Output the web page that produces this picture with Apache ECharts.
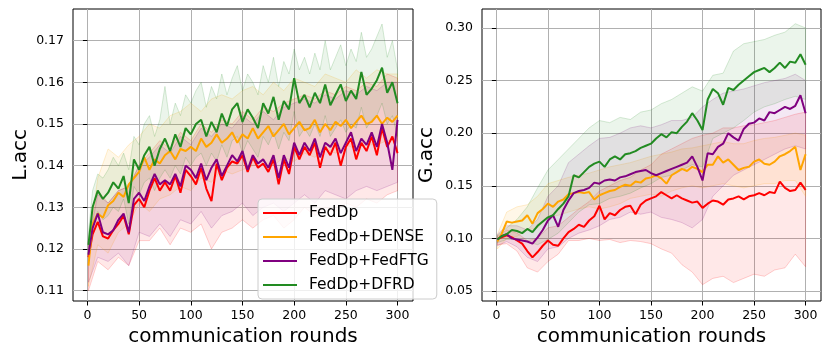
<!DOCTYPE html>
<html>
<head>
<meta charset="utf-8">
<script src="https://cdn.jsdelivr.net/npm/echarts@6/dist/echarts.min.js"></script>
<style>
  html, body { margin: 0; padding: 0; background: #fff; }
  #chart { width: 831px; height: 358px; }
</style>
</head>
<body>
<div id="chart"></div>
<script>
// x positions of the sampled rounds
const rounds = [1, 5, 10, 15, 20, 25, 30, 35, 40, 45, 50, 55, 60, 65, 70, 75, 80, 85, 90, 95, 100,
  105, 110, 115, 120, 125, 130, 135, 140, 145, 150, 155, 160, 165, 170, 175, 180, 185, 190, 195, 200,
  205, 210, 215, 220, 225, 230, 235, 240, 245, 250, 255, 260, 265, 270, 275, 280, 285, 290, 295, 300]
const bandRounds = [1, 10, 20, 30, 40, 50, 60, 70, 80, 90, 100, 110, 120, 130, 140, 150,
  160, 170, 180, 190, 200, 210, 220, 230, 240, 250, 260, 270, 280, 290, 300]

const methods = ['FedDp', 'FedDp+DENSE', 'FedDp+FedFTG', 'FedDp+DFRD']
const colors = ['#ff0000', '#ffa500', '#800080', '#228b22']
const xTicks = [0, 50, 100, 150, 200, 250, 300]
const lTicks = [0.11, 0.12, 0.13, 0.14, 0.15, 0.16, 0.17]
const gTicks = [0.05, 0.10, 0.15, 0.20, 0.25, 0.30]

// ---- L.acc (left) ----
const lFedDp = [0.118, 0.1235, 0.1265, 0.123, 0.1225, 0.1245, 0.126, 0.128, 0.1235, 0.1305, 0.132,
  0.130, 0.134, 0.137, 0.134, 0.136, 0.134, 0.1375, 0.1335, 0.139, 0.1375, 0.1355, 0.1395, 0.1345,
  0.1315, 0.1405, 0.1365, 0.1395, 0.141, 0.1405, 0.1425, 0.1385, 0.142, 0.1395, 0.1405, 0.1385, 0.1415,
  0.1355, 0.1415, 0.138, 0.1445, 0.1415, 0.1445, 0.1425, 0.1455, 0.1395, 0.1445, 0.1425, 0.1455, 0.140,
  0.1445, 0.1465, 0.1415, 0.1455, 0.1435, 0.147, 0.1425, 0.149, 0.1445, 0.147, 0.143]
const lDense = [0.116, 0.126, 0.1285, 0.1275, 0.1305, 0.1315, 0.1335, 0.1325, 0.1355, 0.137, 0.1385,
  0.142, 0.139, 0.1415, 0.1405, 0.1425, 0.1435, 0.1415, 0.144, 0.1435, 0.1445, 0.1435, 0.1465, 0.1445,
  0.1455, 0.1475, 0.1455, 0.1465, 0.148, 0.1455, 0.1475, 0.1465, 0.149, 0.1465, 0.148, 0.1495, 0.147,
  0.1485, 0.150, 0.1475, 0.149, 0.1505, 0.1485, 0.149, 0.151, 0.148, 0.150, 0.1485, 0.1505, 0.1495,
  0.151, 0.149, 0.1505, 0.152, 0.150, 0.1505, 0.152, 0.150, 0.1515, 0.1505, 0.152]
const lFedFTG = [0.1186, 0.125, 0.1285, 0.124, 0.1235, 0.1245, 0.127, 0.1285, 0.124, 0.132, 0.1335,
  0.1315, 0.135, 0.138, 0.1355, 0.1365, 0.1355, 0.138, 0.135, 0.140, 0.139, 0.137, 0.1405, 0.1365,
  0.1395, 0.1415, 0.1375, 0.140, 0.1425, 0.141, 0.1435, 0.139, 0.1425, 0.1405, 0.1415, 0.1395, 0.1425,
  0.137, 0.1425, 0.1395, 0.1455, 0.1425, 0.1455, 0.1435, 0.1465, 0.142, 0.1455, 0.1445, 0.1465, 0.143,
  0.1455, 0.148, 0.1435, 0.1465, 0.145, 0.148, 0.1445, 0.150, 0.1455, 0.139, 0.151]
const lDFRD = [0.121, 0.130, 0.134, 0.132, 0.1335, 0.136, 0.1345, 0.1375, 0.131, 0.1415, 0.139,
  0.1425, 0.1445, 0.140, 0.144, 0.1465, 0.1435, 0.1475, 0.1445, 0.149, 0.1475, 0.150, 0.151, 0.147,
  0.1505, 0.148, 0.1525, 0.1495, 0.1535, 0.155, 0.1505, 0.1535, 0.1515, 0.149, 0.155, 0.1525, 0.1565,
  0.151, 0.1555, 0.1535, 0.161, 0.155, 0.157, 0.154, 0.1575, 0.155, 0.1595, 0.1545, 0.157, 0.1595,
  0.1555, 0.158, 0.156, 0.1625, 0.157, 0.1585, 0.1605, 0.1635, 0.1575, 0.160, 0.155]

const lFedDpLo = [0.110, 0.117, 0.115, 0.118, 0.116, 0.122, 0.122, 0.125, 0.121, 0.125, 0.124, 0.126,
  0.120, 0.124, 0.125, 0.127, 0.125, 0.127, 0.128, 0.125, 0.127, 0.130, 0.128, 0.130, 0.129, 0.131,
  0.130, 0.132, 0.131, 0.133, 0.134]
const lFedDpHi = [0.122, 0.134, 0.131, 0.134, 0.135, 0.140, 0.143, 0.146, 0.144, 0.148, 0.146, 0.150,
  0.148, 0.151, 0.150, 0.153, 0.151, 0.154, 0.153, 0.155, 0.156, 0.157, 0.156, 0.158, 0.157, 0.159,
  0.158, 0.160, 0.159, 0.162, 0.161]
const lDenseLo = [0.111, 0.121, 0.119, 0.124, 0.126, 0.131, 0.129, 0.132, 0.133, 0.135, 0.134, 0.137,
  0.136, 0.139, 0.138, 0.139, 0.140, 0.141, 0.140, 0.142, 0.141, 0.143, 0.142, 0.144, 0.143, 0.145,
  0.144, 0.145, 0.145, 0.146, 0.146]
const lDenseHi = [0.121, 0.137, 0.144, 0.142, 0.145, 0.147, 0.150, 0.149, 0.152, 0.153, 0.155, 0.153,
  0.156, 0.157, 0.156, 0.158, 0.159, 0.157, 0.160, 0.158, 0.161, 0.160, 0.159, 0.162, 0.161, 0.160,
  0.163, 0.161, 0.163, 0.162, 0.162]
const lFedFTGLo = [0.112, 0.118, 0.117, 0.119, 0.116, 0.124, 0.123, 0.126, 0.123, 0.127, 0.126, 0.129,
  0.125, 0.128, 0.129, 0.131, 0.128, 0.130, 0.131, 0.129, 0.131, 0.133, 0.131, 0.134, 0.133, 0.132,
  0.134, 0.135, 0.134, 0.135, 0.136]
const lFedFTGHi = [0.121, 0.133, 0.131, 0.134, 0.135, 0.140, 0.142, 0.145, 0.143, 0.147, 0.145, 0.149,
  0.147, 0.150, 0.149, 0.152, 0.150, 0.153, 0.151, 0.154, 0.155, 0.156, 0.155, 0.157, 0.156, 0.158,
  0.157, 0.159, 0.158, 0.160, 0.160]
// green band is sampled on every 5 rounds (same as the lines)
const lDFRDLo = [0.118, 0.125, 0.129, 0.127, 0.128, 0.130, 0.129, 0.132, 0.126, 0.135, 0.133, 0.136,
  0.137, 0.134, 0.137, 0.139, 0.137, 0.140, 0.138, 0.142, 0.140, 0.142, 0.143, 0.140, 0.143, 0.141,
  0.145, 0.142, 0.146, 0.147, 0.143, 0.146, 0.144, 0.142, 0.147, 0.145, 0.148, 0.144, 0.148, 0.146,
  0.153, 0.147, 0.149, 0.147, 0.150, 0.147, 0.152, 0.147, 0.149, 0.151, 0.148, 0.150, 0.149, 0.154,
  0.149, 0.151, 0.152, 0.155, 0.150, 0.152, 0.147]
const lDFRDHi = [0.124, 0.134, 0.138, 0.137, 0.139, 0.142, 0.140, 0.143, 0.139, 0.147, 0.145, 0.150,
  0.152, 0.147, 0.151, 0.159, 0.150, 0.155, 0.152, 0.157, 0.155, 0.158, 0.160, 0.154, 0.159, 0.156,
  0.162, 0.157, 0.161, 0.164, 0.158, 0.162, 0.160, 0.157, 0.164, 0.160, 0.166, 0.159, 0.165, 0.162,
  0.168, 0.163, 0.166, 0.162, 0.167, 0.163, 0.170, 0.163, 0.166, 0.169, 0.164, 0.168, 0.165, 0.172,
  0.166, 0.168, 0.171, 0.174, 0.166, 0.170, 0.163]

// ---- G.acc (right) ----
const gFedDp = [0.099, 0.101, 0.103, 0.101, 0.098, 0.095, 0.088, 0.082, 0.087, 0.093, 0.098, 0.094,
  0.093, 0.100, 0.106, 0.109, 0.113, 0.111, 0.117, 0.121, 0.131, 0.118, 0.124, 0.122, 0.127, 0.130,
  0.131, 0.123, 0.132, 0.136, 0.138, 0.140, 0.144, 0.141, 0.138, 0.141, 0.138, 0.136, 0.134, 0.135,
  0.129, 0.133, 0.136, 0.135, 0.132, 0.137, 0.138, 0.140, 0.137, 0.140, 0.141, 0.143, 0.141, 0.144,
  0.143, 0.154, 0.148, 0.145, 0.146, 0.153, 0.146]
const gDense = [0.097, 0.104, 0.116, 0.115, 0.116, 0.117, 0.122, 0.114, 0.124, 0.128, 0.133, 0.130,
  0.135, 0.137, 0.142, 0.143, 0.144, 0.143, 0.144, 0.137, 0.141, 0.143, 0.145, 0.146, 0.149, 0.151,
  0.150, 0.154, 0.153, 0.157, 0.158, 0.160, 0.157, 0.152, 0.160, 0.163, 0.166, 0.164, 0.168, 0.166,
  0.163, 0.170, 0.170, 0.178, 0.172, 0.175, 0.170, 0.165, 0.167, 0.168, 0.173, 0.175, 0.171, 0.170,
  0.173, 0.178, 0.180, 0.183, 0.187, 0.165, 0.180]
const gFedFTG = [0.099, 0.102, 0.104, 0.100, 0.099, 0.098, 0.097, 0.095, 0.101, 0.108, 0.117, 0.122,
  0.111, 0.127, 0.136, 0.143, 0.145, 0.146, 0.148, 0.153, 0.152, 0.155, 0.156, 0.155, 0.158, 0.159,
  0.161, 0.163, 0.164, 0.165, 0.162, 0.160, 0.162, 0.164, 0.166, 0.168, 0.170, 0.172, 0.178, 0.168,
  0.155, 0.181, 0.180, 0.187, 0.190, 0.200, 0.196, 0.193, 0.204, 0.209, 0.210, 0.214, 0.212, 0.220,
  0.219, 0.222, 0.225, 0.223, 0.226, 0.236, 0.219]
const gDFRD = [0.099, 0.102, 0.104, 0.108, 0.107, 0.105, 0.109, 0.106, 0.112, 0.116, 0.120, 0.122,
  0.128, 0.133, 0.140, 0.160, 0.158, 0.163, 0.168, 0.171, 0.173, 0.168, 0.175, 0.178, 0.175, 0.180,
  0.181, 0.183, 0.186, 0.188, 0.190, 0.195, 0.199, 0.196, 0.201, 0.200, 0.206, 0.211, 0.219, 0.212,
  0.203, 0.232, 0.242, 0.238, 0.227, 0.243, 0.241, 0.246, 0.250, 0.254, 0.258, 0.260, 0.262, 0.258,
  0.262, 0.267, 0.262, 0.268, 0.267, 0.275, 0.265]

const gFedDpLo = [0.094, 0.095, 0.088, 0.072, 0.068, 0.078, 0.085, 0.098, 0.098, 0.100, 0.098, 0.099,
  0.096, 0.098, 0.097, 0.095, 0.090, 0.086, 0.075, 0.068, 0.056, 0.062, 0.064, 0.058, 0.062, 0.066,
  0.064, 0.070, 0.072, 0.085, 0.073]
const gFedDpHi = [0.102, 0.108, 0.105, 0.098, 0.100, 0.110, 0.112, 0.120, 0.128, 0.135, 0.145, 0.150,
  0.155, 0.158, 0.165, 0.170, 0.180, 0.185, 0.190, 0.195, 0.198, 0.200, 0.205, 0.205, 0.207, 0.208,
  0.210, 0.212, 0.215, 0.218, 0.220]
const gDenseLo = [0.090, 0.100, 0.102, 0.108, 0.110, 0.120, 0.122, 0.125, 0.128, 0.130, 0.128, 0.130,
  0.133, 0.138, 0.140, 0.142, 0.140, 0.145, 0.148, 0.150, 0.148, 0.150, 0.152, 0.150, 0.148, 0.150,
  0.152, 0.152, 0.155, 0.155, 0.140]
const gDenseHi = [0.104, 0.125, 0.130, 0.132, 0.140, 0.152, 0.155, 0.158, 0.160, 0.162, 0.165, 0.168,
  0.170, 0.172, 0.175, 0.178, 0.180, 0.182, 0.185, 0.186, 0.188, 0.190, 0.192, 0.190, 0.190, 0.193,
  0.195, 0.196, 0.198, 0.200, 0.198]
const gFedFTGLo = [0.093, 0.097, 0.092, 0.082, 0.078, 0.090, 0.092, 0.100, 0.105, 0.108, 0.112, 0.118,
  0.120, 0.125, 0.123, 0.125, 0.120, 0.118, 0.115, 0.110, 0.118, 0.140, 0.150, 0.160, 0.165, 0.170,
  0.175, 0.180, 0.185, 0.188, 0.185]
const gFedFTGHi = [0.104, 0.112, 0.112, 0.108, 0.118, 0.140, 0.150, 0.172, 0.180, 0.188, 0.195, 0.196,
  0.200, 0.205, 0.207, 0.205, 0.208, 0.212, 0.212, 0.215, 0.225, 0.232, 0.238, 0.240, 0.242, 0.245,
  0.248, 0.250, 0.252, 0.256, 0.250]
const gDFRDLo = [0.096, 0.099, 0.099, 0.097, 0.094, 0.099, 0.105, 0.115, 0.125, 0.132, 0.133, 0.138,
  0.140, 0.143, 0.148, 0.152, 0.158, 0.160, 0.165, 0.170, 0.168, 0.195, 0.200, 0.205, 0.212, 0.220,
  0.225, 0.228, 0.232, 0.235, 0.232]
const gDFRDHi = [0.103, 0.110, 0.118, 0.130, 0.148, 0.165, 0.175, 0.185, 0.195, 0.205, 0.212, 0.210,
  0.215, 0.213, 0.220, 0.222, 0.228, 0.232, 0.238, 0.244, 0.240, 0.255, 0.257, 0.278, 0.285, 0.287,
  0.289, 0.293, 0.296, 0.304, 0.300]

const panels = [
  { lines: [lFedDp, lDense, lFedFTG, lDFRD],
    lo: [lFedDpLo, lDenseLo, lFedFTGLo, lDFRDLo],
    hi: [lFedDpHi, lDenseHi, lFedFTGHi, lDFRDHi],
    bx: [bandRounds, bandRounds, bandRounds, rounds] },
  { lines: [gFedDp, gDense, gFedFTG, gDFRD],
    lo: [gFedDpLo, gDenseLo, gFedFTGLo, gDFRDLo],
    hi: [gFedDpHi, gDenseHi, gFedFTGHi, gDFRDHi],
    bx: [bandRounds, bandRounds, bandRounds, bandRounds] }
]

const font = 'DejaVu Sans'

const rgba = (hex, a) => {
  const n = parseInt(hex.slice(1), 16)
  return `rgba(${n >> 16},${(n >> 8) & 255},${n & 255},${a})`
}

// shaded min/max band, drawn as one polygon through the axis scales
const band = (gi, xs, lo, hi, color) => ({
  type: 'custom',
  xAxisIndex: gi,
  yAxisIndex: gi,
  silent: true,
  z: 1,
  data: xs.map((r, i) => [r, lo[i], hi[i]]),
  renderItem: (params, api) => {
    if (params.dataIndex !== 0) return null
    const top = xs.map((r, i) => api.coord([r, hi[i]]))
    const bot = xs.map((r, i) => api.coord([r, lo[i]])).reverse()
    return {
      type: 'polygon',
      shape: { points: top.concat(bot) },
      style: { fill: rgba(color, 0.09), stroke: rgba(color, 0.18), lineWidth: 1 }
    }
  }
})

const line = (gi, name, vals, color) => ({
  type: 'line',
  name,
  xAxisIndex: gi,
  yAxisIndex: gi,
  data: rounds.map((r, i) => [r, vals[i]]),
  symbol: 'none',
  silent: true,
  z: 3,
  lineStyle: { width: 2, color },
  itemStyle: { color }
})

const xAxis = gi => ({
  type: 'value',
  gridIndex: gi,
  min: -13.95,
  max: 314.95,
  name: 'communication rounds',
  nameLocation: 'middle',
  nameGap: 25,
  nameTextStyle: { fontSize: 20, color: '#000', fontFamily: font },
  axisLine: { show: false },
  axisTick: { show: true, length: 4.5, lineStyle: { color: '#000' }, customValues: xTicks },
  axisLabel: { customValues: xTicks, fontSize: 12.5, color: '#000', fontFamily: font, margin: 8 },
  splitLine: { show: true, lineStyle: { color: '#b0b0b0', width: 1 } }
})

const yAxis = (gi, name, min, max, ticks, gap) => ({
  type: 'value',
  gridIndex: gi,
  min,
  max,
  name,
  nameLocation: 'middle',
  nameGap: gap,
  nameTextStyle: { fontSize: 20, color: '#000', fontFamily: font },
  axisLine: { show: false },
  axisTick: { show: true, length: 4.5, lineStyle: { color: '#000' }, customValues: ticks },
  axisLabel: { customValues: ticks, fontSize: 12.5, color: '#000', fontFamily: font, margin: 9,
    formatter: v => v.toFixed(2) },
  splitLine: { show: true, lineStyle: { color: '#b0b0b0', width: 1 } }
})

const series = []
panels.forEach((p, gi) => {
  methods.forEach((m, k) => series.push(band(gi, p.bx[k], p.lo[k], p.hi[k], colors[k])))
  methods.forEach((m, k) => series.push(line(gi, m, p.lines[k], colors[k])))
})

const chart = echarts.init(document.getElementById('chart'), null, { renderer: 'canvas' })
chart.setOption({
  animation: false,
  backgroundColor: '#fff',
  textStyle: { fontFamily: font },
  grid: [
    { left: 73, top: 9, width: 340, height: 292, show: true, borderColor: '#000', borderWidth: 1 },
    { left: 482, top: 9, width: 339, height: 292, show: true, borderColor: '#000', borderWidth: 1 }
  ],
  xAxis: [xAxis(0), xAxis(1)],
  yAxis: [
    yAxis(0, 'L.acc', 0.1075, 0.1776, lTicks, 42),
    yAxis(1, 'G.acc', 0.0405, 0.318, gTicks, 45)
  ],
  legend: {
    data: methods,
    orient: 'vertical',
    left: 258,
    top: 199,
    icon: 'rect',
    itemWidth: 34,
    itemHeight: 2,
    itemGap: 8,
    padding: [6, 8, 6, 5],
    backgroundColor: 'rgba(255,255,255,0.8)',
    borderColor: '#cccccc',
    borderWidth: 1,
    borderRadius: 4,
    z: 10,
    textStyle: { fontSize: 15.5, color: '#000', fontFamily: font, padding: [0, 0, 0, 7] }
  },
  series
})
</script>
</body>
</html>
